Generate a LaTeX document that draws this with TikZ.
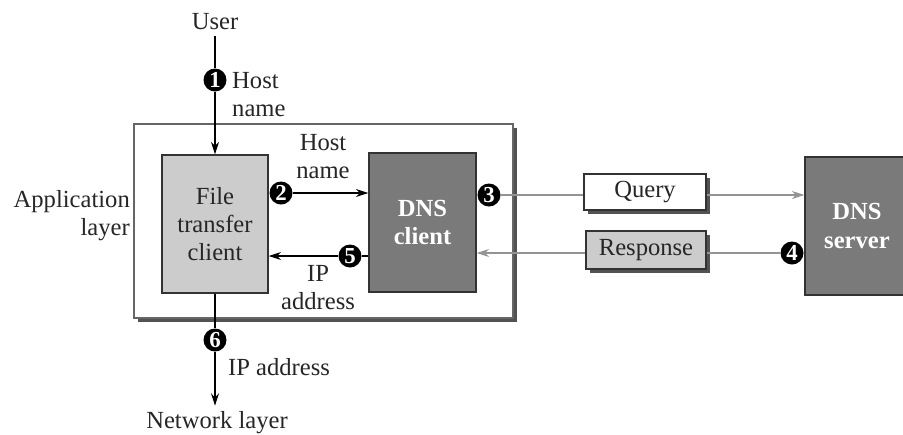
\documentclass[tikz,border=0pt]{standalone}
\usepackage{fontspec}
\setmainfont{Liberation Serif}
\usepackage{xcolor}
\definecolor{lightgrey}{rgb}{0.80,0.80,0.80}
\definecolor{boxgrey}{rgb}{0.48,0.48,0.48}
\definecolor{shadowgrey}{rgb}{0.32,0.32,0.32}
\definecolor{linegrey}{rgb}{0.58,0.58,0.58}
\usetikzlibrary{arrows.meta,shadows}

\begin{document}
\begin{tikzpicture}[x=0.02cm, y=-0.02cm,
    every node/.style={font=\fontsize{14}{16}\selectfont, text=black!85},
    >={Stealth[length=7pt,width=4.5pt]},
    boxed/.style={draw=black!80, line width=0.8pt},
    shade/.style={drop shadow={shadow xshift=0.08cm, shadow yshift=-0.08cm, fill=shadowgrey, opacity=1}},
    num/.style={circle, fill=black, inner sep=0pt, minimum size=0.46cm,
      font=\bfseries\fontsize{13}{13}\selectfont, text=white}]
  \useasboundingbox (0,0) rectangle (903,434);

  % Application layer
  \node[draw=black!60, line width=0.8pt, fill=white, shade, minimum width=7.58cm, minimum height=3.88cm] (layer) at (323.5,221) {};
  \node[anchor=east, align=right] (applbl) at (136,216) {Application\\layer};

  % Boxes
  \node[boxed, fill=lightgrey, minimum width=2.12cm, minimum height=2.76cm, align=center] (ftc) at (215,224) {File\\transfer\\client};
  \node[boxed, fill=boxgrey, minimum width=2.14cm, minimum height=2.78cm, align=center, text=white, font=\bfseries\fontsize{14}{16}\selectfont] (dnsc) at (422.5,222.5) {DNS\\client};
  \node[boxed, fill=boxgrey, minimum width=2.08cm, minimum height=2.76cm, align=center, text=white, font=\bfseries\fontsize{14}{16}\selectfont] (dnss) at (857,226) {DNS\\server};
  \node[boxed, fill=white, shade, minimum width=2.44cm, minimum height=0.72cm] (query) at (645,192) {Query};
  \node[boxed, fill=lightgrey, shade, minimum width=2.4cm, minimum height=0.76cm] (resp) at (646,250) {Response};

  % User and network layer
  \node (user) at (215,22) {User};
  \node (net) at (217,423) {Network layer};

  % Numbers
  \node[num] (n1) at (215,80) {1};
  \node[num] (n2) at (281,193) {2};
  \node[num] (n3) at (489,195) {3};
  \node[num] (n4) at (792,253) {4};
  \node[num] (n5) at (350,256) {5};
  \node[num] (n6) at (215,340) {6};

  % Labels
  \node[anchor=west, align=left] (lbl1) at (226,95) {Host\\name};
  \node[align=center] (lbl2) at (323,157) {Host\\name};
  \node[align=center] (lbl5) at (318,288) {IP\\address};
  \node[anchor=west] (lbl6) at (222,367) {IP address};

  % 1. Host name
  \draw[line width=0.6pt] (user.south) -- (n1.north);
  \draw[->, line width=0.6pt] (n1.south) -- (ftc.north);

  % 2. Host name to DNS client
  \draw[->, line width=0.6pt] (n2.east) -- (dnsc.west |- n2);

  % 3. Query
  \draw[linegrey, line width=0.6pt] (n3.east) -- (query.west |- n3);
  \draw[->, linegrey, line width=0.6pt] (query.east |- n3) -- (dnss.west |- n3);

  % 4. Response
  \draw[linegrey, line width=0.6pt] (n4.west) -- (resp.east |- n4);
  \draw[->, linegrey, line width=0.6pt] (resp.west |- n4) -- (dnsc.east |- n4);

  % 5. IP address
  \draw[line width=0.6pt] (dnsc.west |- n5) -- (n5.east);
  \draw[->, line width=0.6pt] (n5.west) -- (ftc.east |- n5);

  % 6. IP address
  \draw[line width=0.6pt] (ftc.south) -- (n6.north);
  \draw[->, line width=0.6pt] (n6.south) -- (n6 |- net.north);
\end{tikzpicture}
\end{document}
